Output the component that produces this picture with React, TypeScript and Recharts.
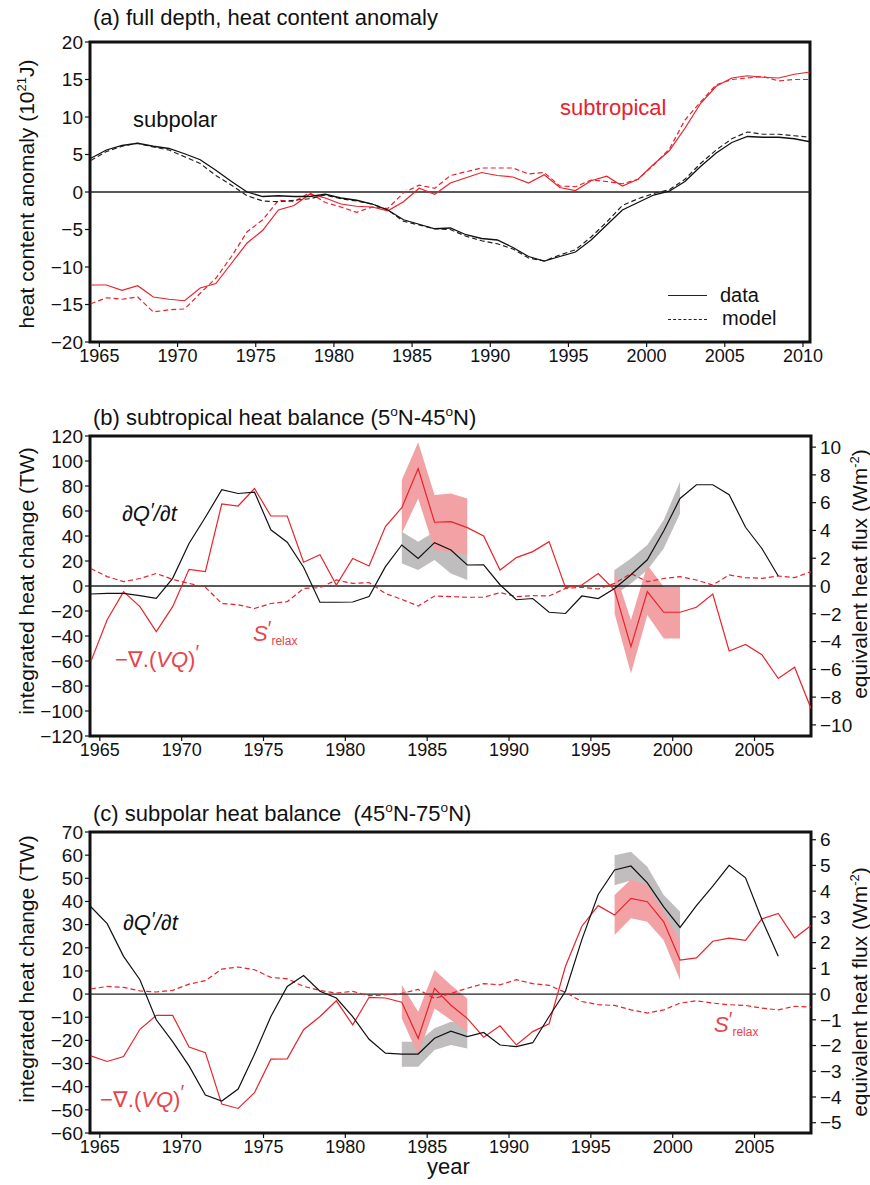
import React from "react";
import {
  ComposedChart,
  Line,
  Area,
  XAxis,
  YAxis,
  ReferenceLine,
  ReferenceArea,
} from "recharts";

const FONT = '"Liberation Sans", Arial, Helvetica, sans-serif';
const RED = "#e8222b";
const RED_TXT = "#e8444c";
const PINK = "#f2a2a5";
const GREY = "#bfbdbd";
const MID = 0.45;

// ---------- panel (a) ----------
const yearsA = [
  1964, 1965, 1966, 1967, 1968, 1969, 1970, 1971, 1972, 1973, 1974, 1975, 1976, 1977, 1978, 1979,
  1980, 1981, 1982, 1983, 1984, 1985, 1986, 1987, 1988, 1989, 1990, 1991, 1992, 1993, 1994, 1995,
  1996, 1997, 1998, 1999, 2000, 2001, 2002, 2003, 2004, 2005, 2006, 2007, 2008, 2009, 2010,
];
const subpolarData = [
  4.5, 5.6, 6.2, 6.5, 6.1, 5.8, 5.1, 4.3, 2.9, 1.4,
  0.0, -0.6, -0.5, -0.6, -0.6, -0.3, -0.8, -1.1, -1.6, -2.4,
  -3.7, -4.3, -4.9, -4.8, -5.7, -6.2, -6.4, -7.4, -8.6, -9.2,
  -8.6, -8.0, -6.4, -4.4, -2.4, -1.4, -0.4, 0.1, 1.4, 3.4,
  5.2, 6.6, 7.4, 7.3, 7.3, 7.1, 6.7,
];
const subpolarModel = [
  4.2, 5.4, 6.1, 6.5, 6.0, 5.6, 4.7, 3.8, 2.2, 0.9,
  -0.5, -1.2, -1.3, -1.1, -0.9, -0.4, -0.9, -1.2, -1.6, -2.4,
  -3.9, -4.4, -4.9, -5.0, -5.9, -6.5, -6.9, -7.6, -8.8, -9.2,
  -8.4, -7.7, -6.0, -4.0, -1.8, -0.9, -0.2, 0.3, 1.7, 3.8,
  5.6, 7.1, 8.0, 7.7, 7.7, 7.5, 7.3,
];
const subtropicalData = [
  -12.4, -12.4, -13.1, -12.5, -14.0, -14.3, -14.5, -12.8, -12.2, -9.5,
  -6.8, -5.1, -2.4, -1.8, -0.3, -0.8, -1.6, -1.9, -2.0, -2.5,
  -1.3, 0.5, -0.3, 1.2, 1.9, 2.6, 2.2, 2.0, 1.2, 2.3,
  0.6, 0.2, 1.5, 2.1, 0.8, 1.7, 3.7, 5.5, 8.5, 11.8,
  14.1, 15.2, 15.5, 15.3, 15.2, 15.7, 16.0,
];
const subtropicalModel = [
  -14.9, -14.1, -14.3, -14.0, -16.0, -15.7, -15.6, -13.5, -11.5, -8.6,
  -5.3, -3.7, -1.1, -1.3, -0.1, -1.4, -2.0, -2.7, -2.0, -2.2,
  -0.1, 0.9, 0.5, 2.2, 2.7, 3.2, 3.2, 3.2, 2.4, 2.6,
  0.8, 0.7, 1.6, 1.4, 1.1, 1.7, 3.6, 5.7, 9.6, 12.0,
  14.3, 15.0, 15.2, 15.4, 14.8, 15.0, 15.0,
];
const ticksAx = [1965, 1970, 1975, 1980, 1985, 1990, 1995, 2000, 2005, 2010];
const ticksAy = [-20, -15, -10, -5, 0, 5, 10, 15, 20];

// ---------- panels (b) and (c) ----------
const yearsB = [
  1964, 1965, 1966, 1967, 1968, 1969, 1970, 1971, 1972, 1973, 1974, 1975, 1976, 1977, 1978, 1979,
  1980, 1981, 1982, 1983, 1984, 1985, 1986, 1987, 1988, 1989, 1990, 1991, 1992, 1993, 1994, 1995,
  1996, 1997, 1998, 1999, 2000, 2001, 2002, 2003, 2004, 2005, 2006, 2007, 2008,
];
const bDQdt = [
  -6.4, -5.9, -5.9, -7.7, -9.9, 6.1, 34, 55, 77, 74,
  75, 45, 35, 15, -13, -13, -12.8, -8.5, 15.5, 32.8,
  22, 34.7, 28.8, 16.8, 17, 1, -11, -10, -21, -22,
  -8, -10, -2, 9, 21, 44, 70, 81, 81, 73,
  47, 30, 8, null, null,
];
const bDivVQ = [
  -60.5, -27, -4.5, -16.5, -36.5, -16.5, 13.3, 11.5, 65.6, 64,
  78, 56, 56, 19, 25, 0.8, 22, 16, 47.5, 62.7,
  94, 51, 51.5, 46.7, 40, 12.8, 22.7, 27.5, 35.5, -1.3,
  0.8, 10, -3.2, -48.5, -4.5, -21, -21, -17, -6.4, -52,
  -46.7, -55, -74, -65, -98,
];
const bSrelax = [
  14, 7.5, 3.5, 6, 10, 5.3, 2.1, -1, -14, -15,
  -18, -14, -12.5, -2, -1.3, 4.8, 2.1, 2.7, -6, -10.7,
  -16, -8, -8.5, -9, -9, -5.3, -8.5, -7.7, -8, -1.9,
  -1, -2.4, 2.1, 10, 3.5, 6, 7.5, 4.8, 0.8, 8.8,
  6.7, 6.1, 8, 6.7, 11.5,
];
const bandYears1 = [1983, 1984, 1985, 1986, 1987];
const bandYears2 = [1996, 1997, 1998, 1999, 2000];
const bGrey1Lo = [18, 12.8, 20.8, 10, 4.8];
const bGrey1Hi = [43.5, 35.5, 43.5, 30, 24.8];
const bRed1Lo = [42, 70, 28.8, 27.5, 24.8];
const bRed1Hi = [84.8, 115, 72.8, 74, 70];
const bGrey2Lo = [-7.2, 2, 12.8, 30, 58];
const bGrey2Hi = [12.8, 22, 32.8, 52.8, 83.5];
const bRed2Lo = [-21.9, -70, -23.2, -41.9, -41.9];
const bRed2Hi = [12.8, -27.2, 16.8, -0.5, -0.5];

const cDQdt = [
  37.7, 30.4, 16.3, 6.2, -11.1, -20.5, -31, -43.6, -46.2, -41,
  -26, -9.7, 3.3, 8, 1.2, -1.7, -9.7, -19.5, -25.5, -25.9,
  -25.9, -19.1, -16, -18.4, -16.6, -22, -22.7, -21, -9.7, 1.2,
  23.5, 43, 53.6, 55.3, 48, 37.7, 28.8, 38.2, 46.6, 55.6,
  50.2, 32.2, 16.3, null, null,
];
const cDivVQ = [
  -26.7, -29.1, -27, -15.2, -9.2, -9.2, -22.9, -25.3, -47.5, -49.4,
  -42.6, -28.1, -28, -15.4, -9.7, -2.9, -13.3, -1.4, -1.7, -3.5,
  -19.1, 2.5, -4.8, -10.5, -18.6, -13.7, -22, -16.2, -12.8, 12,
  29.3, 38.2, 34.1, 41.3, 39.9, 31.2, 14.7, 15.6, 22.8, 24.2,
  23.2, 32.5, 34.8, 24.2, 29.6,
];
const cSrelax = [
  2.2, 3.3, 2.9, 1.4, 0.9, 1.6, 4.3, 5.8, 10.8, 11.7,
  10.5, 7.2, 6.6, 3.3, 1.6, 0.4, 1.2, -0.7, -0.3, 0.3,
  2, -1.9, 0.3, 2.5, 4.5, 4, 6.2, 4.5, 3.8, 0.7,
  -3.2, -4.6, -4.9, -6.8, -8.2, -6.8, -3.9, -2.9, -3.9, -4.6,
  -4.9, -6.1, -6.8, -5.3, -5.6,
];
const cGrey1Lo = [-31.4, -31.4, -24.2, -22, -23.5];
const cGrey1Hi = [-20.6, -20.6, -14.8, -12, -12.7];
const cRed1Lo = [-10.5, -26.3, -6.2, -11.2, -16.3];
const cRed1Hi = [3.9, -7.6, 10.4, 3.9, -1.9];
const cGrey2Lo = [47, 49, 41.5, 31.5, 22.5];
const cGrey2Hi = [60, 61.5, 55, 42.8, 35.6];
const cRed2Lo = [25.5, 32.7, 31.2, 23.3, 6];
const cRed2Hi = [42.8, 49.5, 47, 35.6, 23.3];

const ticksBx = [1965, 1970, 1975, 1980, 1985, 1990, 1995, 2000, 2005];
const ticksBy = [-120, -100, -80, -60, -40, -20, 0, 20, 40, 60, 80, 100, 120];
const ticksBr = [-10, -8, -6, -4, -2, 0, 2, 4, 6, 8, 10];
const ticksCy = [-60, -50, -40, -30, -20, -10, 0, 10, 20, 30, 40, 50, 60, 70];
const ticksCr = [-5, -4, -3, -2, -1, 0, 1, 2, 3, 4, 5, 6];

// ---------- tables ----------
const tableA = yearsA.map((y, i) => ({
  x: y + MID,
  spD: subpolarData[i],
  spM: subpolarModel[i],
  stD: subtropicalData[i],
  stM: subtropicalModel[i],
}));
const mkTable = (a: (number | null)[], b: number[], c: number[]) =>
  yearsB.map((y, i) => ({ x: y + MID, dq: a[i], div: b[i], s: c[i] }));
const tableB = mkTable(bDQdt, bDivVQ, bSrelax);
const tableC = mkTable(cDQdt, cDivVQ, cSrelax);
const mkBand = (years: number[], lo: number[], hi: number[]) =>
  years.map((y, i) => ({ x: y + MID, band: [lo[i], hi[i]] }));

const fmt = (v: number) => (v < 0 ? `\u2212${Math.abs(v)}` : `${v}`);
const xTickStyle = { fontSize: 18, fill: "#111" };
const yTickStyle = { fontSize: 19, fill: "#111" };
const tickLine = { stroke: "#111", strokeWidth: 1.2 };

function Txt({ x, y, size = 22, color = "#111", italic = false, children }: any) {
  return (
    <div
      style={{
        position: "absolute",
        left: x,
        top: y,
        transform: "translateY(-50%)",
        fontSize: size,
        lineHeight: 1,
        color,
        fontStyle: italic ? "italic" : "normal",
        whiteSpace: "nowrap",
      }}
    >
      {children}
    </div>
  );
}

function VTxt({ x, y, size = 21, children }: any) {
  return (
    <div
      style={{
        position: "absolute",
        left: x,
        top: y,
        transform: "translate(-50%, -50%) rotate(-90deg)",
        fontSize: size,
        lineHeight: 1,
        color: "#111",
        whiteSpace: "nowrap",
      }}
    >
      {children}
    </div>
  );
}

const supStyle = { fontSize: "0.62em", verticalAlign: "0.6em" };

function PanelBC({
  top,
  height,
  mTop,
  xH,
  table,
  yDom,
  yTicks,
  rDom,
  rTicks,
  g1,
  r1,
  g2,
  r2,
}: any) {
  const xDom = [1964.4, 2008.45];
  return (
    <div style={{ position: "absolute", left: 0, top }}>
      <ComposedChart
        width={870}
        height={height}
        data={table}
        margin={{ top: mTop, right: 0, bottom: 0, left: 0 }}
      >
        <XAxis
          type="number"
          dataKey="x"
          domain={xDom}
          allowDataOverflow
          ticks={ticksBx}
          interval={0}
          height={xH}
          axisLine={false}
          tickLine={tickLine}
          tickSize={5}
          tickMargin={2}
          tick={xTickStyle}
        />
        <YAxis
          type="number"
          domain={yDom}
          allowDataOverflow
          ticks={yTicks}
          interval={0}
          width={90}
          axisLine={false}
          tickLine={tickLine}
          tickSize={5}
          tickMargin={2}
          tick={yTickStyle}
          tickFormatter={fmt}
        />
        <YAxis
          yAxisId="r"
          orientation="right"
          type="number"
          domain={rDom}
          allowDataOverflow
          ticks={rTicks}
          interval={0}
          width={59}
          axisLine={false}
          tickLine={tickLine}
          tickSize={5}
          tickMargin={4}
          tick={yTickStyle}
          tickFormatter={fmt}
        />
        <Area data={g1} dataKey="band" type="linear" stroke="none" fill={GREY} fillOpacity={1} isAnimationActive={false} />
        <Area data={g2} dataKey="band" type="linear" stroke="none" fill={GREY} fillOpacity={1} isAnimationActive={false} />
        <Area data={r1} dataKey="band" type="linear" stroke="none" fill={PINK} fillOpacity={1} isAnimationActive={false} />
        <Area data={r2} dataKey="band" type="linear" stroke="none" fill={PINK} fillOpacity={1} isAnimationActive={false} />
        <ReferenceLine y={0} stroke="#222" strokeWidth={1.3} />
        <Line dataKey="s" type="linear" stroke={RED} strokeWidth={1.2} strokeDasharray="5 3" dot={false} isAnimationActive={false} />
        <Line dataKey="div" type="linear" stroke={RED} strokeWidth={1.2} dot={false} isAnimationActive={false} />
        <Line dataKey="dq" type="linear" stroke="#111" strokeWidth={1.2} dot={false} isAnimationActive={false} />
        <ReferenceArea
          x1={xDom[0]}
          x2={xDom[1]}
          y1={yDom[0]}
          y2={yDom[1]}
          fill="none"
          fillOpacity={0}
          stroke="#111"
          strokeWidth={3}
          ifOverflow="visible"
        />
      </ComposedChart>
    </div>
  );
}

export default function App() {
  const xDomA = [1964.4, 2010.45];
  return (
    <div
      style={{
        position: "absolute",
        left: 0,
        top: 0,
        width: 870,
        height: 1185,
        background: "#fff",
        fontFamily: FONT,
        color: "#111",
      }}
    >
      {/* panel (a) */}
      <div style={{ position: "absolute", left: 0, top: 0 }}>
        <ComposedChart width={870} height={370} data={tableA} margin={{ top: 42, right: 60, bottom: 0, left: 0 }}>
          <XAxis
            type="number"
            dataKey="x"
            domain={xDomA}
            allowDataOverflow
            ticks={ticksAx}
            interval={0}
            height={28}
            axisLine={false}
            tickLine={tickLine}
            tickSize={5}
            tickMargin={2}
            tick={xTickStyle}
          />
          <YAxis
            type="number"
            domain={[-20, 20]}
            allowDataOverflow
            ticks={ticksAy}
            interval={0}
            width={90}
            axisLine={false}
            tickLine={tickLine}
            tickSize={5}
            tickMargin={2}
            tick={yTickStyle}
            tickFormatter={fmt}
          />
          <ReferenceLine y={0} stroke="#222" strokeWidth={1.3} />
          <Line dataKey="stM" type="linear" stroke={RED} strokeWidth={1.2} strokeDasharray="5 3" dot={false} isAnimationActive={false} />
          <Line dataKey="stD" type="linear" stroke={RED} strokeWidth={1.2} dot={false} isAnimationActive={false} />
          <Line dataKey="spM" type="linear" stroke="#222" strokeWidth={1.2} strokeDasharray="5 3" dot={false} isAnimationActive={false} />
          <Line dataKey="spD" type="linear" stroke="#111" strokeWidth={1.3} dot={false} isAnimationActive={false} />
          <ReferenceArea
            x1={xDomA[0]}
            x2={xDomA[1]}
            y1={-20}
            y2={20}
            fill="none"
            fillOpacity={0}
            stroke="#111"
            strokeWidth={3}
            ifOverflow="visible"
          />
        </ComposedChart>
      </div>

      <PanelBC
        top={400}
        height={370}
        mTop={36}
        xH={34}
        table={tableB}
        yDom={[-120, 120]}
        yTicks={ticksBy}
        rDom={[-10.8, 10.8]}
        rTicks={ticksBr}
        g1={mkBand(bandYears1, bGrey1Lo, bGrey1Hi)}
        r1={mkBand(bandYears1, bRed1Lo, bRed1Hi)}
        g2={mkBand(bandYears2, bGrey2Lo, bGrey2Hi)}
        r2={mkBand(bandYears2, bRed2Lo, bRed2Hi)}
      />
      <PanelBC
        top={800}
        height={363}
        mTop={32}
        xH={30}
        table={tableC}
        yDom={[-60, 70]}
        yTicks={ticksCy}
        rDom={[-5.4, 6.3]}
        rTicks={ticksCr}
        g1={mkBand(bandYears1, cGrey1Lo, cGrey1Hi)}
        r1={mkBand(bandYears1, cRed1Lo, cRed1Hi)}
        g2={mkBand(bandYears2, cGrey2Lo, cGrey2Hi)}
        r2={mkBand(bandYears2, cRed2Lo, cRed2Hi)}
      />

      {/* titles */}
      <Txt x={93} y={18}>(a) full depth, heat content anomaly</Txt>
      <Txt x={93} y={417}>
        (b) subtropical heat balance (5<span style={supStyle}>o</span>N-45<span style={supStyle}>o</span>N)
      </Txt>
      <Txt x={93} y={813}>
        (c) subpolar heat balance&nbsp;&nbsp;(45<span style={supStyle}>o</span>N-75<span style={supStyle}>o</span>N)
      </Txt>

      {/* axis labels */}
      <VTxt x={26} y={194}>
        heat content anomaly (10<span style={supStyle}>21</span>J)
      </VTxt>
      <VTxt x={26} y={581}>integrated heat change (TW)</VTxt>
      <VTxt x={859} y={574}>
        equivalent heat flux (Wm<span style={supStyle}>-2</span>)
      </VTxt>
      <VTxt x={26} y={969}>integrated heat change (TW)</VTxt>
      <VTxt x={859} y={992}>
        equivalent heat flux (Wm<span style={supStyle}>-2</span>)
      </VTxt>
      <Txt x={427} y={1167}>year</Txt>

      {/* panel (a) annotations */}
      <Txt x={133} y={120}>subpolar</Txt>
      <Txt x={560} y={108} color={RED}>subtropical</Txt>
      <div style={{ position: "absolute", left: 668, top: 295, width: 39, borderTop: "1.3px solid #222" }} />
      <Txt x={720} y={295} size={20}>data</Txt>
      <div style={{ position: "absolute", left: 668, top: 319, width: 39, borderTop: "1.3px dashed #222" }} />
      <Txt x={722} y={318} size={20}>model</Txt>

      {/* panel (b) annotations */}
      <Txt x={122} y={513} italic>
        ∂Q<span style={{ fontSize: "0.9em", verticalAlign: "0.25em" }}>′</span>/∂t
      </Txt>
      <Txt x={115} y={657} color={RED_TXT}>
        −∇.(<i>VQ</i>)<span style={{ fontSize: "0.9em", verticalAlign: "0.4em" }}>′</span>
      </Txt>
      <Txt x={253} y={633} color={RED_TXT}>
        <i>S</i>
        <span style={{ fontSize: "0.9em", verticalAlign: "0.3em" }}>′</span>
        <span style={{ fontSize: 12, verticalAlign: "-0.3em" }}>relax</span>
      </Txt>

      {/* panel (c) annotations */}
      <Txt x={123} y={922} italic>
        ∂Q<span style={{ fontSize: "0.9em", verticalAlign: "0.25em" }}>′</span>/∂t
      </Txt>
      <Txt x={100} y={1097} color={RED_TXT}>
        −∇.(<i>VQ</i>)<span style={{ fontSize: "0.9em", verticalAlign: "0.4em" }}>′</span>
      </Txt>
      <Txt x={714} y={1024} color={RED_TXT}>
        <i>S</i>
        <span style={{ fontSize: "0.9em", verticalAlign: "0.3em" }}>′</span>
        <span style={{ fontSize: 12, verticalAlign: "-0.3em" }}>relax</span>
      </Txt>
    </div>
  );
}
